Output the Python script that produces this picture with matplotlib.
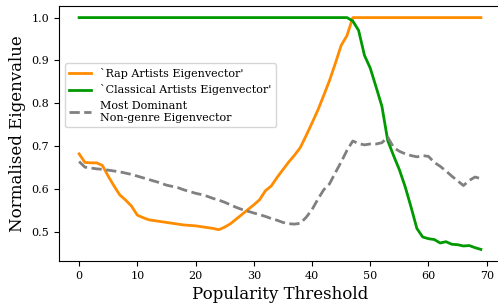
import numpy as np
import matplotlib
matplotlib.use("Agg")
import matplotlib.pyplot as plt

plt.rcParams['font.family'] = ['DejaVu Serif']

threshold = np.arange(0, 70)

rap = [0.682, 0.662, 0.661, 0.661, 0.655, 0.630, 0.607, 0.586, 0.574, 0.560,
       0.539, 0.533, 0.528, 0.526, 0.524, 0.522, 0.520, 0.518, 0.516, 0.515,
       0.514, 0.512, 0.510, 0.508, 0.505, 0.511, 0.519, 0.530, 0.541, 0.552,
       0.563, 0.575, 0.596, 0.607, 0.627, 0.645, 0.663, 0.679, 0.697, 0.725,
       0.754, 0.784, 0.818, 0.853, 0.893, 0.935, 0.958, 1.0, 1.0, 1.0,
       1.0, 1.0, 1.0, 1.0, 1.0, 1.0, 1.0, 1.0, 1.0, 1.0,
       1.0, 1.0, 1.0, 1.0, 1.0, 1.0, 1.0, 1.0, 1.0, 1.0]

classical = [1.0] * 47 + [0.992, 0.970, 0.912, 0.882, 0.838, 0.793, 0.713,
                          0.678, 0.645, 0.605, 0.558, 0.508, 0.488, 0.484,
                          0.482, 0.474, 0.477, 0.471, 0.470, 0.467, 0.468,
                          0.463, 0.459]

dominant = [0.664, 0.651, 0.649, 0.647, 0.646, 0.644, 0.642, 0.640, 0.637, 0.634,
            0.630, 0.626, 0.622, 0.618, 0.614, 0.609, 0.606, 0.603, 0.598, 0.594,
            0.590, 0.587, 0.583, 0.578, 0.574, 0.569, 0.563, 0.557, 0.552, 0.548,
            0.544, 0.540, 0.536, 0.531, 0.527, 0.522, 0.519, 0.518, 0.520, 0.534,
            0.552, 0.576, 0.598, 0.612, 0.638, 0.663, 0.690, 0.712, 0.706, 0.703,
            0.705, 0.705, 0.708, 0.721, 0.697, 0.688, 0.682, 0.678, 0.675, 0.678,
            0.676, 0.662, 0.653, 0.642, 0.630, 0.619, 0.608, 0.620, 0.628, 0.624]

fig = plt.figure(figsize=(4.98, 3.08), dpi=100)
ax = fig.add_axes([59 / 498, 47 / 308, 442 / 498, 255 / 308])

ax.plot(threshold, rap, color="#ff8c00", lw=2, label="`Rap Artists Eigenvector'")
ax.plot(threshold, classical, color="#009900", lw=2, label="`Classical Artists Eigenvector'")
ax.plot(threshold, dominant, color="grey", lw=2, ls="--",
        label="Most Dominant\nNon-genre Eigenvector")

# the original image is cropped just before the right-hand frame line
ax.spines['right'].set_visible(False)

ax.set_xticks([0, 10, 20, 30, 40, 50, 60, 70])
ax.set_yticks([0.5, 0.6, 0.7, 0.8, 0.9, 1.0])
ax.tick_params(labelsize=8)
ax.set_xlabel("Popularity Threshold", fontsize=12)
ax.set_ylabel("Normalised Eigenvalue", fontsize=12)
ax.legend(loc="center left", bbox_to_anchor=(0, 0.65), fontsize=8)

fig.savefig("out.png", dpi=100)
